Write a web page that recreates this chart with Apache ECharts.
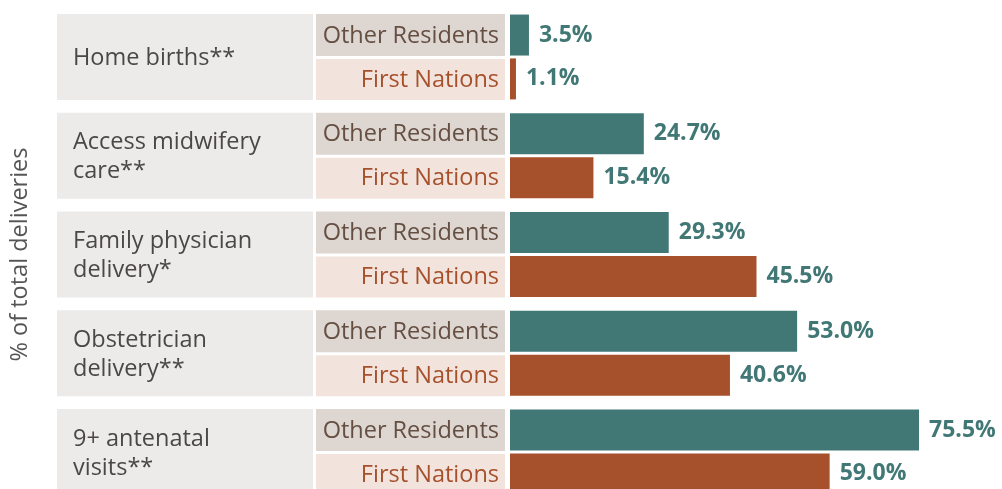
<!DOCTYPE html>
<html>
<head>
<meta charset="utf-8">
<script src="https://cdn.jsdelivr.net/npm/echarts@6/dist/echarts.min.js"></script>
<style>
  html, body { margin: 0; padding: 0; background: #fff; }
  #main { width: 1002px; height: 489px; }
</style>
</head>
<body>
<div id="main"></div>
<script>
// 数据
var categories = ['Home births**', 'Access midwifery\ncare**', 'Family physician\ndelivery*', 'Obstetrician\ndelivery**', '9+ antenatal\nvisits**'];
var groupNames = ['Other Residents', 'First Nations'];
var otherResidents = [3.5, 24.7, 29.3, 53.0, 75.5];
var firstNations = [1.1, 15.4, 45.5, 40.6, 59.0];

var TEAL = '#417876';
var RUST = '#a6502c';
var FONT = '"Open Sans", "Noto Sans", sans-serif';

var myChart = echarts.init(document.getElementById('main'));

// 左侧的标签框
function renderBoxes(params, api) {
    var idx = api.value(1);
    var c = api.coord([0, idx])[1];
    return {
        type: 'group',
        children: [
            {
                type: 'rect',
                shape: { x: 57, y: c - 43, width: 256, height: 86 },
                style: { fill: '#edebe9' }
            },
            {
                type: 'text',
                style: {
                    x: 73, y: c + 1.5, text: categories[idx],
                    fill: '#4a4846', font: '23.5px ' + FONT,
                    verticalAlign: 'middle', lineHeight: 29
                }
            },
            {
                type: 'rect',
                shape: { x: 316, y: c - 43, width: 189, height: 42 },
                style: { fill: '#ddd6d1' }
            },
            {
                type: 'text',
                style: {
                    x: 499, y: c - 21, text: groupNames[0],
                    fill: '#654e42', font: '23.5px ' + FONT,
                    align: 'right', verticalAlign: 'middle'
                }
            },
            {
                type: 'rect',
                shape: { x: 316, y: c + 2, width: 189, height: 41 },
                style: { fill: '#f2e4dd' }
            },
            {
                type: 'text',
                style: {
                    x: 499, y: c + 23, text: groupNames[1],
                    fill: RUST, font: '23.5px ' + FONT,
                    align: 'right', verticalAlign: 'middle'
                }
            }
        ]
    };
}

var valueLabel = {
    show: true,
    position: 'right',
    distance: 10,
    color: TEAL,
    fontFamily: FONT,
    fontWeight: 'bold',
    fontSize: 23,
    formatter: function (p) { return p.value.toFixed(1) + '%'; }
};

option = {
    animation: false,
    grid: {
        left: 510, top: 7.6, height: 493.75, width: 433.4,
        outerBoundsMode: 'none', containLabel: false
    },
    xAxis: {
        type: 'value', min: 0, max: 80,
        show: false
    },
    yAxis: {
        type: 'category',
        data: categories,
        inverse: true,
        axisLine: { show: false },
        axisTick: { show: false },
        axisLabel: { show: false },
        name: '% of total deliveries',
        nameLocation: 'middle',
        nameGap: 478,
        nameRotate: 90,
        nameTextStyle: { color: '#555555', fontSize: 23.5, fontFamily: FONT }
    },
    series: [
        {
            type: 'custom',
            renderItem: renderBoxes,
            clip: false,
            silent: true,
            data: categories.map(function (c, i) { return [0, i]; }),
            z: 1
        },
        {
            type: 'bar',
            name: groupNames[0],
            data: otherResidents,
            barWidth: 41,
            barGap: '7%',
            itemStyle: { color: TEAL },
            label: valueLabel,
            z: 2
        },
        {
            type: 'bar',
            name: groupNames[1],
            data: firstNations,
            barWidth: 41,
            barGap: '7%',
            itemStyle: { color: RUST },
            label: valueLabel,
            z: 2
        }
    ]
};

myChart.setOption(option);
</script>
</body>
</html>
